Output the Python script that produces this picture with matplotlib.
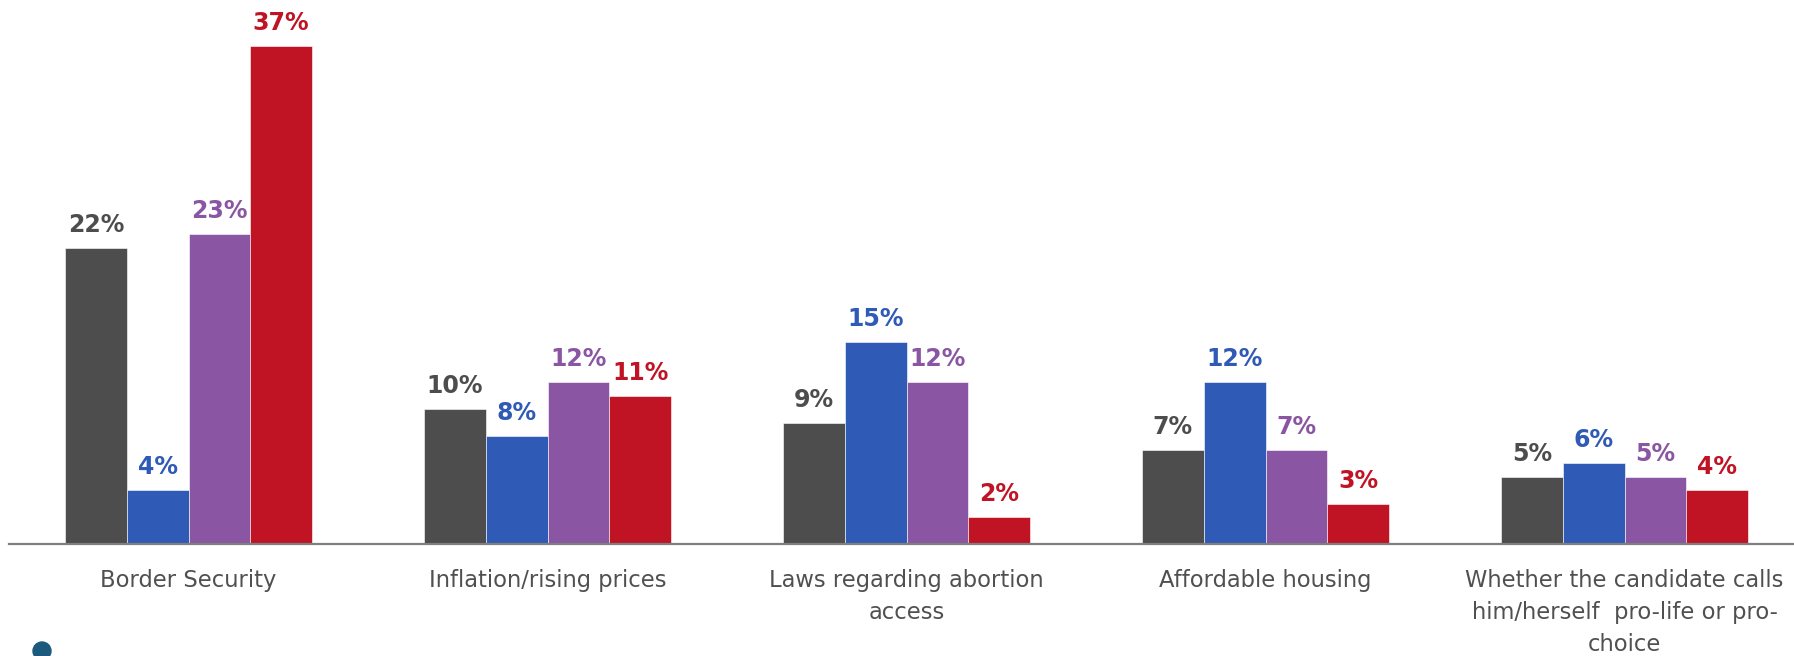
import matplotlib
matplotlib.use("Agg")
import matplotlib.pyplot as plt
import numpy as np
from matplotlib.patches import Ellipse

categories = ["Border Security", "Inflation/rising prices", "Laws regarding abortion\naccess",
              "Affordable housing", "Whether the candidate calls\nhim/herself  pro-life or pro-\nchoice"]
series_gray = [22, 10, 9, 7, 5]
series_blue = [4, 8, 15, 12, 6]
series_purple = [23, 12, 12, 7, 5]
series_red = [37, 11, 2, 3, 4]

series = [series_gray, series_blue, series_purple, series_red]
colors = ["#4d4d4d", "#2f5ab5", "#8a55a2", "#c01324"]

W, H = 1794, 656
fig = plt.figure(figsize=(W / 100, H / 100), dpi=100)
ax = fig.add_axes([9 / W, (H - 544) / H, 1 - 9 / W, 544 / H])

x = np.arange(len(categories))
bw = 0.172
for i, (vals, c) in enumerate(zip(series, colors)):
    xs = x + (i - 1.5) * bw
    ax.bar(xs, vals, width=bw, color=c, edgecolor="white", linewidth=0.4)
    for xi, v in zip(xs, vals):
        ax.annotate(f"{v}%", (xi, v), xytext=(0, 11.5), textcoords="offset points",
                    ha="center", va="baseline", fontsize=17, fontweight="bold",
                    color=c, family="DejaVu Sans")

ax.set_xlim(-0.5, 4.472)
ax.set_ylim(0, 40.4)
for s in ["top", "left", "right"]:
    ax.spines[s].set_visible(False)
ax.spines["bottom"].set_color("#7f7f7f")
ax.spines["bottom"].set_linewidth(1.6)
ax.set_yticks([])
ax.set_xticks(x)
ax.set_xticklabels(categories, fontsize=16.3, color="#505050", linespacing=1.5)
ax.tick_params(axis="x", length=0, pad=18)

fig.patches.append(Ellipse((42 / W, (H - 651) / H), 18 / W, 18 / H,
                           transform=fig.transFigure, color="#1b5a7d"))
fig.savefig("out.png", dpi=100)
